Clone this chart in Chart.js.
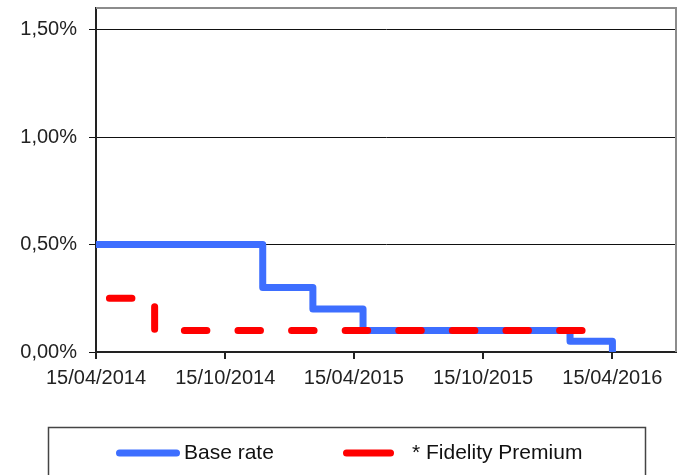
<!DOCTYPE html>
<html>
<head>
<meta charset="utf-8">
<script src="https://cdn.jsdelivr.net/npm/chart.js@4/dist/chart.umd.min.js"></script>
<style>
  html, body { margin: 0; padding: 0; background: #fff; }
</style>
</head>
<body>
<canvas id="rateChart" width="682" height="475"></canvas>
<script>
// series data (dates where the rate changes)
const baseDates = ['2014-04-15', '2014-12-07', '2015-02-16', '2015-04-28', '2016-02-15', '2016-04-15'];
const baseRates = [0.50, 0.30, 0.20, 0.10, 0.05, 0.00];

const fidelityDates = ['2014-05-04', '2014-07-07', '2016-03-06'];
const fidelityRates = [0.25, 0.10, 0.10];

const xTickLabels = ['15/04/2014', '15/10/2014', '15/04/2015', '15/10/2015', '15/04/2016'];
const yTicks = [0, 0.5, 1.0, 1.5];
const seriesNames = ['Base rate', '* Fidelity Premium'];

const startDate = '2014-04-15';
const endDate = '2016-07-14';

function dayOf(iso) {
  const p = iso.split('-').map(Number);
  const s = startDate.split('-').map(Number);
  return (Date.UTC(p[0], p[1] - 1, p[2]) - Date.UTC(s[0], s[1] - 1, s[2])) / 86400000;
}
function dayOfLabel(lbl) {
  const p = lbl.split('/');
  return dayOf(p[2] + '-' + p[1] + '-' + p[0]);
}
function points(dates, vals) {
  return dates.map((d, i) => ({ x: dayOf(d), y: vals[i] }));
}

const blue = 'rgb(61,110,255)';
const red = 'rgb(255,0,0)';

// grey frame on top and right, boxed legend underneath
const framePlugin = {
  id: 'frame',
  beforeDatasetsDraw(chart) {
    const { ctx, chartArea: a } = chart;
    ctx.save();
    ctx.strokeStyle = '#8c8c8c';
    ctx.lineWidth = 2;
    ctx.beginPath();
    ctx.moveTo(a.left, a.top);
    ctx.lineTo(a.right, a.top);
    ctx.lineTo(a.right, a.bottom);
    ctx.stroke();
    ctx.restore();
  },
  afterDraw(chart) {
    const ctx = chart.ctx;
    ctx.save();
    ctx.strokeStyle = '#444';
    ctx.lineWidth = 1.5;
    ctx.strokeRect(48.5, 427.5, 597, 60);

    ctx.lineCap = 'round';
    ctx.lineWidth = 7;
    ctx.strokeStyle = blue;
    ctx.beginPath(); ctx.moveTo(119.5, 453); ctx.lineTo(176.5, 453); ctx.stroke();
    ctx.strokeStyle = red;
    ctx.beginPath(); ctx.moveTo(346.5, 453); ctx.lineTo(390.5, 453); ctx.stroke();

    ctx.fillStyle = '#111';
    ctx.font = '21px "Liberation Sans", Arial, sans-serif';
    ctx.textBaseline = 'middle';
    ctx.fillText(seriesNames[0], 184, 453);
    ctx.fillText(seriesNames[1], 412, 453);
    ctx.restore();
  }
};

const tickFont = { family: '"Liberation Sans", Arial, sans-serif', size: 20 };

new Chart(document.getElementById('rateChart'), {
  type: 'line',
  data: {
    datasets: [{
      label: seriesNames[1],
      data: points(fidelityDates, fidelityRates),
      stepped: 'before',
      borderColor: red,
      borderWidth: 7,
      borderDash: [22.5, 31.1],
      borderCapStyle: 'round',
      borderJoinStyle: 'round',
      pointRadius: 0,
      fill: false,
      order: 0
    }, {
      label: seriesNames[0],
      data: points(baseDates, baseRates),
      stepped: 'before',
      borderColor: blue,
      borderWidth: 7,
      borderCapStyle: 'round',
      borderJoinStyle: 'round',
      pointRadius: 0,
      fill: false,
      order: 1
    }]
  },
  options: {
    responsive: false,
    animation: false,
    devicePixelRatio: 1,
    layout: { padding: { top: 8, right: 6, left: 0, bottom: 0 } },
    plugins: {
      legend: { display: false },
      tooltip: { enabled: false }
    },
    scales: {
      x: {
        type: 'linear',
        min: 0,
        max: dayOf(endDate),
        afterBuildTicks: s => { s.ticks = xTickLabels.map(l => ({ value: dayOfLabel(l) })); },
        afterFit: s => { s.height = 123; s.paddingLeft = 0; s.paddingRight = 0; },
        ticks: {
          callback: (v, i) => xTickLabels[i],
          font: tickFont,
          color: '#222',
          padding: 7,
          maxRotation: 0,
          autoSkip: false
        },
        grid: { drawOnChartArea: false, tickLength: 7, color: '#222', lineWidth: 2 },
        border: { color: '#222', width: 2 }
      },
      y: {
        min: 0,
        max: 1.6,
        afterBuildTicks: s => { s.ticks = yTicks.map(v => ({ value: v })); },
        afterFit: s => { s.width = 96; s.paddingTop = 0; s.paddingBottom = 0; },
        ticks: {
          callback: v => v.toFixed(2).replace('.', ',') + '%',
          font: tickFont,
          color: '#222',
          padding: 12
        },
        grid: { color: '#111', lineWidth: 1, tickLength: 7 },
        border: { color: '#222', width: 2 }
      }
    }
  },
  plugins: [framePlugin]
});
</script>
</body>
</html>
